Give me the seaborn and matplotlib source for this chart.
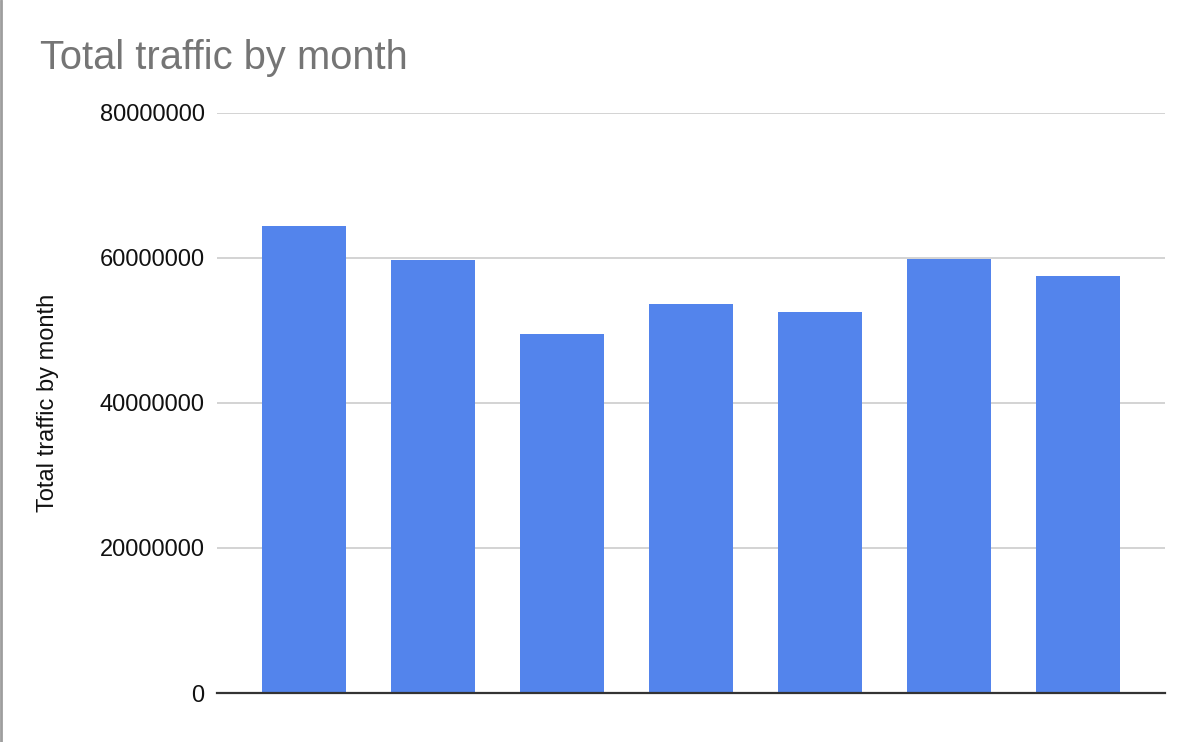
import matplotlib
matplotlib.use("Agg")
import matplotlib.pyplot as plt
import seaborn as sns
import pandas as pd

# дані з графіка (підписів по осі X на картинці немає)
months = ["1", "2", "3", "4", "5", "6", "7"]
traffic = [64400000, 59700000, 49500000, 53700000, 52600000, 59800000, 57500000]

df = pd.DataFrame({"month": months, "traffic": traffic})

sns.set_style("white")
plt.rcParams["font.family"] = ["Liberation Sans", "DejaVu Sans"]

fig = plt.figure(figsize=(12, 7.42), dpi=100)
ax = fig.add_axes([0.181, 0.066, 0.79, 0.782])

sns.barplot(data=df, x="month", y="traffic", color="#5384ec", width=0.65,
            saturation=1, linewidth=0, ax=ax, zorder=3)

ax.set_ylim(0, 80000000)
ax.set_yticks([0, 20000000, 40000000, 60000000, 80000000])
ax.set_yticklabels(["0", "20000000", "40000000", "60000000", "80000000"])
ax.set_xlim(-0.674, 6.674)
ax.set_xticks([])
ax.set_xlabel("")
ax.set_ylabel("")

ax.grid(axis="y", color="#cccccc", linewidth=1.2, zorder=0)
ax.tick_params(axis="y", length=0, pad=9, labelsize=17, labelcolor="#111111")
for s in ["top", "right", "left"]:
    ax.spines[s].set_visible(False)
ax.spines["bottom"].set_color("#333333")
ax.spines["bottom"].set_linewidth(1.6)
ax.spines["bottom"].set_zorder(4)

fig.text(40 / 1200, 1 - 69 / 742, "Total traffic by month", fontsize=28.7,
         color="#757575", ha="left", va="baseline")
fig.text(48 / 1200, 1 - 403 / 742, "Total traffic by month", fontsize=17,
         color="#111111", rotation=90, ha="center", va="center")

# сіра рамка зліва
fig.add_artist(plt.Line2D([0.001, 0.001], [0, 1], color="#9e9e9e", linewidth=2,
                          transform=fig.transFigure))

plt.savefig("out.png", dpi=100)
